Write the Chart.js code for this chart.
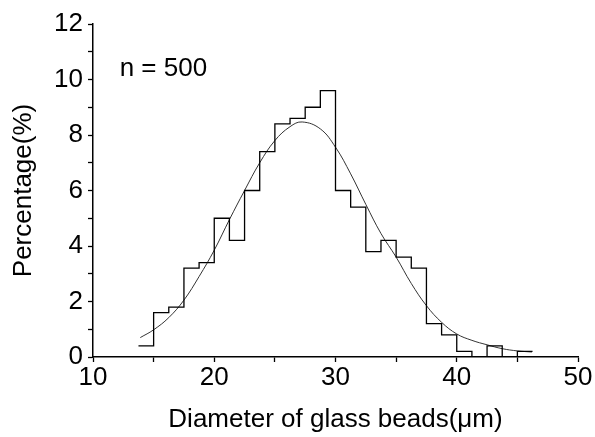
<!DOCTYPE html>
<html>
<head>
<meta charset="utf-8">
<script src="https://cdn.jsdelivr.net/npm/chart.js@4"></script>
<style>
  html, body { margin: 0; padding: 0; background: #fff; }
  #wrap { width: 595px; height: 437px; }
</style>
</head>
<body>
<div id="wrap"><canvas id="c" width="595" height="437"></canvas></div>
<script>
// Histogram: left edges of bins (μm) and percentage in each bin
const binStarts = [13.75, 15, 16.25, 17.5, 18.75, 20, 21.25, 22.5, 23.75, 25, 26.25, 27.5, 28.75, 30, 31.25, 32.5, 33.75, 35, 36.25, 37.5, 38.75, 40, 41.25, 42.5, 43.75, 45];
const binValues = [0.4, 1.6, 1.8, 3.2, 3.4, 5.0, 4.2, 6.0, 7.4, 8.4, 8.6, 9.0, 9.6, 6.0, 5.4, 3.8, 4.2, 3.6, 3.2, 1.2, 0.8, 0.2, 0, 0.4, 0, 0.2];
const lastBinEnd = 46.25;

// Fitted distribution curve
const fitX = [13.9, 15, 16.25, 17.5, 18.75, 20, 21.25, 22.5, 23.75, 25, 26.25, 27.25, 28.75, 30, 31.25, 32.5, 33.75, 35, 36.25, 37.5, 38.75, 40, 41.25, 42.5, 43.75, 45, 46.2];
const fitY = [0.7, 0.98, 1.42, 2.05, 2.9, 3.85, 4.95, 6.0, 7.0, 7.8, 8.3, 8.47, 8.22, 7.56, 6.6, 5.5, 4.45, 3.6, 2.65, 1.85, 1.25, 0.83, 0.6, 0.44, 0.3, 0.22, 0.18];

// Axis ticks
const xTicks = [10, 20, 30, 40, 50];
const yTicks = [0, 2, 4, 6, 8, 10, 12];
const sampleLabel = 'n = 500';
const sampleLabelPos = [12.2, 10.4];

const FONT = '"Liberation Sans", Arial, sans-serif';

const histData = binStarts.map((x, i) => ({ x: x, y: binValues[i] }));
histData.push({ x: lastBinEnd, y: binValues[binValues.length - 1] });
const fitData = fitX.map((x, i) => ({ x: x, y: fitY[i] }));

const textPlugin = {
  id: 'sampleText',
  afterDatasetsDraw(chart) {
    const { ctx, scales } = chart;
    ctx.save();
    ctx.fillStyle = '#000';
    ctx.font = '26px ' + FONT;
    ctx.textAlign = 'left';
    ctx.textBaseline = 'middle';
    ctx.fillText(sampleLabel, scales.x.getPixelForValue(sampleLabelPos[0]), scales.y.getPixelForValue(sampleLabelPos[1]));
    ctx.restore();
  }
};

new Chart(document.getElementById('c'), {
  type: 'line',
  data: {
    datasets: [
      {
        label: 'Histogram',
        data: histData,
        stepped: 'before',
        borderColor: '#000',
        borderWidth: 1.3,
        pointRadius: 0,
        fill: false
      },
      {
        label: 'Fit',
        data: fitData,
        borderColor: '#333',
        borderWidth: 1,
        pointRadius: 0,
        tension: 0.4,
        fill: false
      }
    ]
  },
  options: {
    responsive: false,
    animation: false,
    devicePixelRatio: 1,
    layout: { padding: { top: 24, right: 17, left: 0, bottom: 0 } },
    plugins: { legend: { display: false }, tooltip: { enabled: false } },
    scales: {
      x: {
        type: 'linear',
        min: 10, max: 50,
        afterFit(s) { s.height = 80; },
        afterBuildTicks(s) {
          const t = [];
          for (let v = 10; v <= 50; v += 5) t.push({ value: v });
          s.ticks = t;
        },
        ticks: {
          color: '#000',
          font: { family: FONT, size: 26 },
          padding: 0,
          maxRotation: 0,
          autoSkip: false,
          callback: (v) => xTicks.includes(v) ? String(v) : ''
        },
        grid: { drawOnChartArea: false, tickLength: 5, color: '#000', tickColor: '#000', tickWidth: 1.3 },
        border: { color: '#000', width: 1.5 },
        title: {
          display: true,
          text: 'Diameter of glass beads(μm)',
          color: '#000',
          font: { family: FONT, size: 26 },
          padding: { top: 0, bottom: 2 }
        }
      },
      y: {
        min: 0, max: 12,
        afterFit(s) { s.width = 93; },
        afterBuildTicks(s) {
          const t = [];
          for (let v = 0; v <= 12; v += 1) t.push({ value: v });
          s.ticks = t;
        },
        ticks: {
          color: '#000',
          font: { family: FONT, size: 26 },
          padding: 5,
          autoSkip: false,
          callback: (v) => yTicks.includes(v) ? String(v) : ''
        },
        grid: { drawOnChartArea: false, tickLength: 5, color: '#000', tickColor: '#000', tickWidth: 1.3 },
        border: { color: '#000', width: 1.5 },
        title: {
          display: true,
          text: 'Percentage(%)',
          color: '#000',
          font: { family: FONT, size: 26 },
          padding: { top: 8, bottom: 0 }
        }
      }
    }
  },
  plugins: [textPlugin]
});
</script>
</body>
</html>
